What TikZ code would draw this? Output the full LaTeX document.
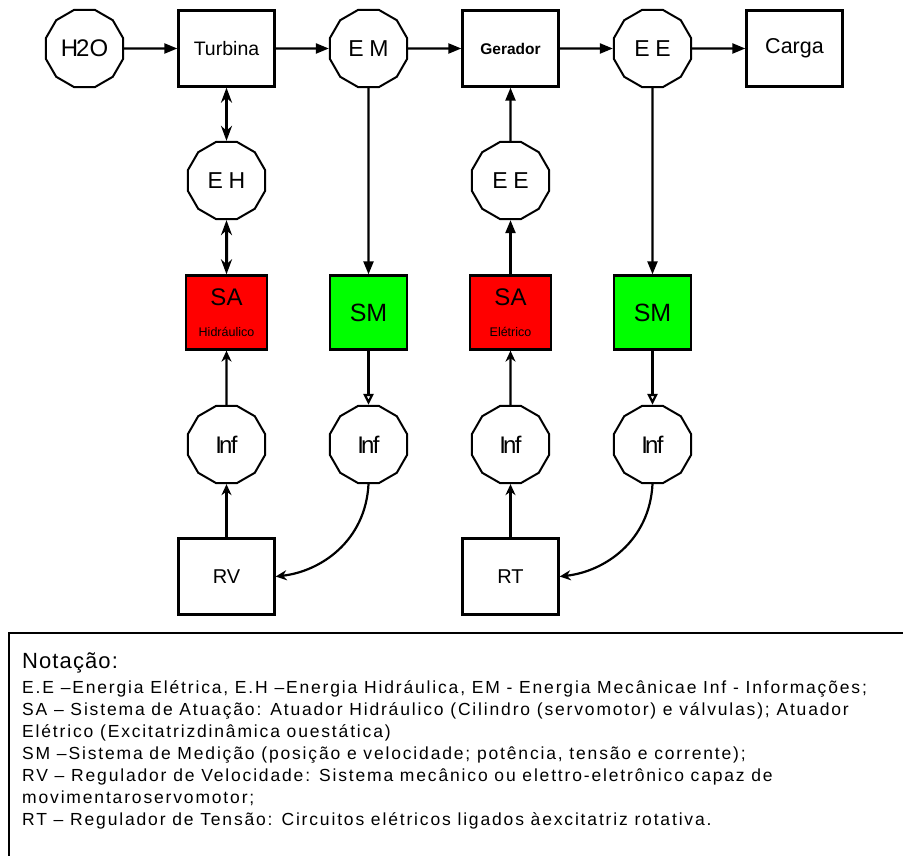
\documentclass[tikz,border=0pt]{standalone}
\usepackage{fontspec}
\setmainfont{Liberation Sans}
\newfontfamily\notafont{Liberation Sans}[LetterSpace=10.5]
\usetikzlibrary{shapes,arrows.meta}

\definecolor{verde}{RGB}{0,255,0}
\newcommand{\largo}[1]{{\addfontfeature{LetterSpace=25}#1}}
\newcommand{\Inf}{I\kern-3pt n\kern-1.5pt f}

\tikzset{
  bloco/.style={draw, line width=2.3pt, minimum width=96pt, minimum height=76pt, inner sep=0pt, font=\fontsize{19.5}{22}\selectfont},
  energia/.style={draw, line width=2pt, regular polygon, regular polygon sides=12, minimum size=80pt, inner sep=0pt, font=\fontsize{23}{26}\selectfont},
  atuador/.style={draw, line width=2.3pt, fill=red, minimum width=81pt, minimum height=74pt, inner sep=0pt, align=center, font=\fontsize{24}{26}\selectfont},
  medidor/.style={draw, line width=2.3pt, fill=verde, minimum width=77pt, minimum height=74pt, inner sep=0pt, font=\fontsize{25}{27}\selectfont},
  fluxo/.style={-{Triangle[length=13pt,width=10pt]}, line width=2.2pt},
  duplo/.style={{Stealth[length=15pt,width=11pt]}-{Stealth[length=15pt,width=11pt]}, line width=3pt},
  sinal/.style={-{Stealth[open,length=11pt,width=10pt]}, line width=2.2pt},
  medida/.style={-{Triangle[open,length=11pt,width=10pt]}, line width=2.2pt},
  nota/.style={anchor=base west, inner sep=0pt, font=\notafont\fontsize{17.5}{20}\selectfont}
}

\begin{document}
\begin{tikzpicture}[x=1pt,y=1pt]
\useasboundingbox (0,0) rectangle (903,-856);

% linha principal
\node[energia, font=\fontsize{24}{26}\selectfont] (H) at (84.5,-48.5) {H\kern-2pt2O};
\node[bloco] (T) [node distance=142pt, right of=H] {Turbina};
\node[energia] (EM) [node distance=142pt, right of=T] {\largo{EM}};
\node[bloco] (G) [node distance=142pt, right of=EM] {\fontsize{15.5}{17}\selectfont\bfseries Gerador};
\node[energia] (EE) [node distance=142pt, right of=G] {\largo{EE}};
\node[bloco, font=\fontsize{21.5}{24}\selectfont] (C) [node distance=142pt, right of=EE] {Carga};

% segunda linha
\node[energia] (EH) [node distance=132pt, below of=T] {\largo{EH}};
\node[energia] (EEg) [node distance=132pt, below of=G] {\largo{EE}};

% atuadores e medicao
\node[atuador] (SAh) [node distance=132pt, below of=EH] {SA\\[5pt]{\fontsize{12.5}{14}\selectfont Hidráulico}};
\node[medidor] (SMm) [node distance=142pt, right of=SAh] {SM};
\node[atuador] (SAe) [node distance=142pt, right of=SMm] {SA\\[5pt]{\fontsize{12.5}{14}\selectfont Elétrico}};
\node[medidor] (SMe) [node distance=142pt, right of=SAe] {SM};

% informacoes
\node[energia, font=\fontsize{24}{26}\selectfont] (I1) [node distance=132pt, below of=SAh] {\Inf};
\node[energia, font=\fontsize{24}{26}\selectfont] (I2) [node distance=132pt, below of=SMm] {\Inf};
\node[energia, font=\fontsize{24}{26}\selectfont] (I3) [node distance=132pt, below of=SAe] {\Inf};
\node[energia, font=\fontsize{24}{26}\selectfont] (I4) [node distance=132pt, below of=SMe] {\Inf};

% reguladores
\node[bloco, font=\fontsize{20}{22}\selectfont] (RV) [node distance=132pt, below of=I1] {RV};
\node[bloco, font=\fontsize{20}{22}\selectfont] (RT) [node distance=132pt, below of=I3] {RT};

\draw [fluxo] (H) -- (T);
\draw [fluxo] (T) -- (EM);
\draw [fluxo] (EM) -- (G);
\draw [fluxo] (G) -- (EE);
\draw [fluxo] (EE) -- (C);

\draw [duplo] (T) -- (EH);
\draw [duplo] (EH) -- (SAh);

\draw [fluxo] (EM) -- (SMm);
\draw [fluxo] (EE) -- (SMe);
\draw [fluxo] (SAe) -- (EEg);
\draw [fluxo] (EEg) -- (G);

\draw [sinal] (I1) -- (SAh);
\draw [sinal] (RV) -- (I1);
\draw [sinal] (I3) -- (SAe);
\draw [sinal] (RT) -- (I3);
\draw [medida] (SMm) -- (I2);
\draw [medida] (SMe) -- (I4);

\draw [sinal] (I2.south) .. controls +(-3,-57) and +(45,5) .. (RV.east);
\draw [sinal] (I4.south) .. controls +(-3,-57) and +(45,5) .. (RT.east);

% notacao
\draw [line width=2.4pt] (9,-862) |- (910,-633);
\node[nota, font=\notafont\addfontfeature{LetterSpace=5}\fontsize{22}{24}\selectfont] (tit) at (22,-668) {Notação:};
\node[nota] (n1) at (22,-693) {E.E –Energia Elétrica, E.H –Energia Hidráulica, EM - Energia Mecânicae Inf - Informações;};
\node[nota] (n2) at (22,-715) {SA – Sistema de Atuação: Atuador Hidráulico (Cilindro (servomotor) e válvulas); Atuador};
\node[nota] (n3) at (22,-737) {Elétrico (Excitatrizdinâmica ouestática)};
\node[nota] (n4) at (22,-759) {SM –Sistema de Medição (posição e velocidade; potência, tensão e corrente);};
\node[nota] (n5) at (22,-781) {RV – Regulador de Velocidade: Sistema mecânico ou elettro-eletrônico capaz de};
\node[nota] (n6) at (22,-803) {movimentaroservomotor;};
\node[nota] (n7) at (22,-825) {RT – Regulador de Tensão: Circuitos elétricos ligados àexcitatriz rotativa.};

\end{tikzpicture}
\end{document}
